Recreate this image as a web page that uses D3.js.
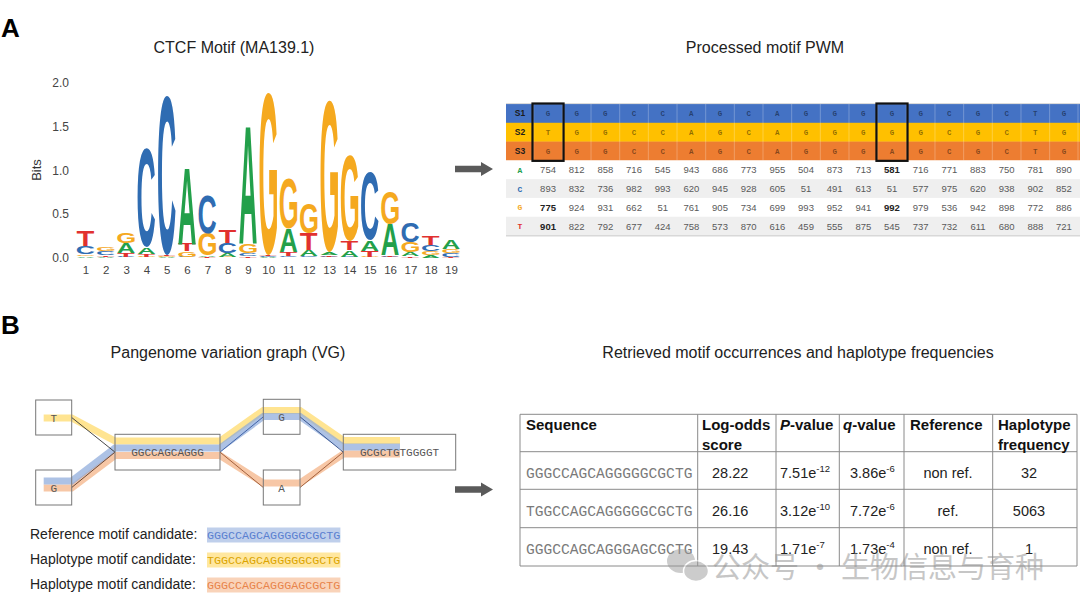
<!DOCTYPE html>
<html><head><meta charset="utf-8">
<script src="https://cdn.jsdelivr.net/npm/d3@7"></script>
<style>body{margin:0;background:#fff}svg{display:block}</style>
</head><body>
<svg id="c" width="1080" height="608"></svg>
<script>
// ---------------- DATA ----------------
const positions = d3.range(1, 20);
const logoBases = ["A", "C", "G", "T"];
// information content (bits) of each letter per position
const logoA = [0.02,0.01,0.11,0.08,0.01,0.88,0.02,0.04,1.36,0.01,0.27,0.07,0.03,0.08,0.12,0.35,0.04,0.03,0.10];
const logoC = [0.09,0.04,0.01,1.13,1.83,0.01,0.44,0.12,0.03,0.01,0.02,0.02,0.01,0.01,0.79,0.01,0.23,0.07,0.04];
const logoG = [0.02,0.04,0.12,0.01,0.01,0.06,0.25,0.01,0.11,1.86,0.58,0.35,1.73,0.98,0.01,0.38,0.12,0.04,0.05];
const logoT = [0.17,0.02,0.04,0.03,0.01,0.09,0.01,0.14,0.02,0.01,0.04,0.19,0.02,0.10,0.07,0.02,0.02,0.10,0.01];
const yTicks = [0, 0.5, 1.0, 1.5, 2.0];

const pwmSeqNames = ["S1", "S2", "S3"];
const seqS1 = ["G","G","G","C","C","A","G","C","A","G","G","G","G","G","C","G","C","T","G"];
const seqS2 = ["T","G","G","C","C","A","G","C","A","G","G","G","G","G","C","G","C","T","G"];
const seqS3 = ["G","G","G","C","C","A","G","C","A","G","G","G","A","G","C","G","C","T","G"];
const pwmA = [754,812,858,716,545,943,686,773,955,504,873,713,581,716,771,883,750,781,890];
const pwmC = [893,832,736,982,993,620,945,928,605,51,491,613,51,577,975,620,938,902,852];
const pwmG = [775,924,931,662,51,761,905,734,699,993,952,941,992,979,536,942,898,772,886];
const pwmT = [901,822,792,677,424,758,573,870,616,459,555,875,545,737,732,611,680,888,721];
const boldCells = [[0,"G"],[0,"T"],[12,"A"],[12,"G"]];
const boxedCols = [0, 12];

const vgLabels = ["T", "G", "GGCCAGCAGGG", "G", "A", "GCGCTGTGGGGT"];
const legendLabels = ["Reference motif candidate:", "Haplotype motif candidate:", "Haplotype motif candidate:"];
const legendSeqs = ["GGGCCAGCAGGGGGCGCTG", "TGGCCAGCAGGGGGCGCTG", "GGGCCAGCAGGGAGCGCTG"];

const tableSeqs = ["GGGCCAGCAGGGGGCGCTG", "TGGCCAGCAGGGGGCGCTG", "GGGCCAGCAGGGAGCGCTG"];
const logOdds = ["28.22", "26.16", "19.43"];
const pMant = ["7.51", "3.12", "1.71"];
const pExp = ["-12", "-10", "-7"];
const qMant = ["3.86", "7.72", "1.73"];
const qExp = ["-6", "-6", "-4"];
const refCol = ["non ref.", "ref.", "non ref."];
const hapFreq = ["32", "5063", "1"];

// ---------------- STYLE / LAYOUT ----------------
const SANS = "'Liberation Sans', Arial, Helvetica, sans-serif";
const MONO = "'Liberation Mono', 'Courier New', monospace";
const logoColors = {A: "#23a04a", C: "#2f6cb2", G: "#f5a91f", T: "#e1312f"};
const svg = d3.select("#c");

// panel letters
svg.append("text").attr("x", 1).attr("y", 37).text("A")
  .attr("font-family", SANS).attr("font-weight", "bold").attr("font-size", 26);
svg.append("text").attr("x", 1).attr("y", 334).text("B")
  .attr("font-family", SANS).attr("font-weight", "bold").attr("font-size", 26);

function title(x, y, t) {
  svg.append("text").attr("x", x).attr("y", y).attr("text-anchor", "middle")
    .attr("font-family", SANS).attr("font-size", 16).attr("fill", "#222").text(t);
}
title(234, 53, "CTCF Motif (MA139.1)");
title(765, 53, "Processed motif PWM");
title(228, 358, "Pangenome variation graph (VG)");
title(798, 358, "Retrieved motif occurrences and haplotype frequencies");

// ---------------- SEQUENCE LOGO ----------------
const xLogo = d3.scaleLinear().domain([1, 19]).range([85.5, 451]);
const yLogo = d3.scaleLinear().domain([0, 2]).range([257.5, 83]);
const letterW = 17.5;
const gLogo = svg.append("g");
const yAxis = d3.axisLeft(yLogo).tickValues(yTicks).tickFormat(d3.format(".1f")).tickSize(0).tickPadding(0);
const yAxG = gLogo.append("g").attr("transform", "translate(69,0)").call(yAxis);
yAxG.select(".domain").remove();
yAxG.selectAll("text").attr("font-family", SANS).attr("font-size", 12).attr("fill", "#444");
const xAxis = d3.axisBottom(xLogo).tickValues(positions).tickFormat(d3.format("d")).tickSize(0).tickPadding(0);
const xAxG = gLogo.append("g").attr("transform", "translate(0,266)").call(xAxis);
xAxG.select(".domain").remove();
xAxG.selectAll("text").attr("font-family", SANS).attr("font-size", 11.5).attr("fill", "#444");
gLogo.append("text").attr("transform", "translate(41,170) rotate(-90)").attr("text-anchor", "middle")
  .attr("font-family", SANS).attr("font-size", 13).attr("fill", "#333").text("Bits");

const canvas = document.createElement("canvas");
const ctx = canvas.getContext("2d");
ctx.font = "bold 100px " + SANS;
const metrics = {};
logoBases.forEach(b => {
  const m = ctx.measureText(b);
  metrics[b] = {l: m.actualBoundingBoxLeft, r: m.actualBoundingBoxRight, a: m.actualBoundingBoxAscent, d: m.actualBoundingBoxDescent};
});
const logoData = {A: logoA, C: logoC, G: logoG, T: logoT};
positions.forEach((p, i) => {
  const stack = logoBases.map(b => ({b, h: logoData[b][i]})).sort((u, v) => u.h - v.h);
  let cum = 0;
  stack.forEach(s => {
    const y0 = yLogo(cum), y1 = yLogo(cum + s.h);
    cum += s.h;
    const h = y0 - y1;
    if (h < 0.3) return;
    const m = metrics[s.b];
    const sx = letterW / (m.l + m.r), sy = h / (m.a + m.d);
    const x0 = xLogo(p) - letterW / 2;
    gLogo.append("text")
      .attr("transform", `translate(${x0 + m.l * sx},${y0 - m.d * sy}) scale(${sx},${sy})`)
      .attr("font-size", 100).attr("font-weight", "bold").attr("font-family", SANS)
      .attr("fill", logoColors[s.b]).text(s.b);
  });
});

// arrows
function arrow(x0, x1, y) {
  svg.append("path")
    .attr("d", `M${x0},${y - 3.2} L${x1 - 12},${y - 3.2} L${x1 - 12},${y - 7} L${x1},${y} L${x1 - 12},${y + 7} L${x1 - 12},${y + 3.2} L${x0},${y + 3.2} Z`)
    .attr("fill", "#5a5a5a");
}
arrow(455, 493, 169);
arrow(455, 493, 489.5);

// ---------------- PWM TABLE ----------------
const pwmRowsAll = pwmSeqNames.concat(logoBases);
const colX = d3.scaleBand().domain(d3.range(19)).range([533.7, 1078.3]);
const rowY = d3.scaleBand().domain(pwmRowsAll).range([104, 235.5]);
const rowFill = {S1: "#4472c4", S2: "#ffc000", S3: "#ed7d31", A: "#ffffff", C: "#efefef", G: "#ffffff", T: "#efefef"};
const gP = svg.append("g");
gP.selectAll("rect.row").data(pwmRowsAll).join("rect")
  .attr("x", 506).attr("y", d => rowY(d)).attr("width", 1080 - 506).attr("height", rowY.bandwidth() + 0.3)
  .attr("fill", d => rowFill[d]);
gP.append("line").attr("x1", 506).attr("x2", 1080).attr("y1", 235.8).attr("y2", 235.8).attr("stroke", "#d8d8d8").attr("stroke-width", 1.5);
gP.append("line").attr("x1", 506).attr("x2", 1080).attr("y1", 103.6).attr("y2", 103.6).attr("stroke", "#d8d8d8").attr("stroke-width", 1);
gP.selectAll("line.sep").data(d3.range(20)).join("line")
  .attr("x1", d => d < 19 ? colX(d) : 1078).attr("x2", d => d < 19 ? colX(d) : 1078)
  .attr("y1", rowY("S1")).attr("y2", rowY("S3") + rowY.bandwidth())
  .attr("stroke", "#ffffff").attr("stroke-opacity", 0.25);
gP.selectAll("text.slab").data(pwmSeqNames).join("text")
  .attr("x", 520).attr("y", d => rowY(d) + rowY.bandwidth() / 2 + 3).attr("text-anchor", "middle")
  .attr("font-family", SANS).attr("font-weight", "bold").attr("font-size", 8.5).attr("fill", "#1b1b1b").text(d => d);
gP.selectAll("text.blab").data(logoBases).join("text")
  .attr("x", 520).attr("y", d => rowY(d) + rowY.bandwidth() / 2 + 3).attr("text-anchor", "middle")
  .attr("font-family", MONO).attr("font-weight", "bold").attr("font-size", 8).attr("fill", d => logoColors[d]).text(d => d);
const seqs = {S1: seqS1, S2: seqS2, S3: seqS3};
pwmSeqNames.forEach(r => {
  gP.selectAll("text.s" + r).data(seqs[r]).join("text")
    .attr("x", (d, i) => colX(i) + colX.bandwidth() / 2).attr("y", rowY(r) + rowY.bandwidth() / 2 + 2.7)
    .attr("text-anchor", "middle").attr("font-family", MONO).attr("font-weight", "bold").attr("font-size", 7.5)
    .attr("fill", "#000").attr("fill-opacity", 0.45).text(d => d);
});
const pwmVals = {A: pwmA, C: pwmC, G: pwmG, T: pwmT};
logoBases.forEach(b => {
  gP.selectAll("text.v" + b).data(pwmVals[b]).join("text")
    .attr("x", (d, i) => colX(i) + colX.bandwidth() / 2).attr("y", rowY(b) + rowY.bandwidth() / 2 + 3.4)
    .attr("text-anchor", "middle").attr("font-family", SANS).attr("font-size", 9.5)
    .attr("font-weight", (d, i) => boldCells.some(c => c[0] === i && c[1] === b) ? "bold" : "normal")
    .attr("fill", (d, i) => boldCells.some(c => c[0] === i && c[1] === b) ? "#222" : "#5a5a5a")
    .text(d => d);
});
gP.selectAll("rect.box").data(boxedCols).join("rect")
  .attr("x", d => colX(d) - 1.2).attr("y", rowY("S1") - 0.5)
  .attr("width", colX.bandwidth() + 2.4).attr("height", rowY.bandwidth() * 3 + 1)
  .attr("fill", "none").attr("stroke", "#111").attr("stroke-width", 2.2);

// ---------------- VARIATION GRAPH ----------------
const gV = svg.append("g");
const nodes = [
  {x: 35.7, y: 400, w: 36, h: 35},
  {x: 35.7, y: 470, w: 36, h: 35},
  {x: 115, y: 434.3, w: 105, h: 35.7},
  {x: 263.3, y: 399.3, w: 36.7, h: 35},
  {x: 263.3, y: 470, w: 36.7, h: 35},
  {x: 343.3, y: 434.3, w: 112.4, h: 35.7}
];
nodes.forEach((n, i) => n.label = vgLabels[i]);
const edges = [[0, 2, "#333"], [1, 2, "#5b3a2a"], [2, 3, "#3459a0"], [2, 4, "#9a5530"], [3, 5, "#2d4a86"], [4, 5, "#9a5530"]];
const bands = [
  {color: "#ffd966", lanes: [[0, 418], [2, 441], [3, 410.5], [5, 440.5]]},
  {color: "#f4b183", lanes: [[1, 488], [2, 455.5], [4, 483], [5, 454]]},
  {color: "#8eaadb", lanes: [[1, 481], [2, 448], [3, 416.5], [5, 447]]}
];
const line = d3.line();
bands.forEach(bd => {
  const pts = [];
  bd.lanes.forEach(([ni, ly], k) => {
    const n = nodes[ni];
    if (k === 0) { pts.push([n.x + 8, ly], [n.x + n.w, ly]); }
    else if (k === bd.lanes.length - 1) { pts.push([n.x, ly], [400, ly]); }
    else { pts.push([n.x, ly], [n.x + n.w, ly]); }
  });
  gV.append("path").attr("d", line(pts)).attr("fill", "none").attr("stroke", bd.color)
    .attr("stroke-width", 7).attr("stroke-opacity", 0.72).attr("stroke-linejoin", "miter");
});
edges.forEach(([a, b, c]) => {
  const s = nodes[a], t = nodes[b];
  gV.append("line").attr("x1", s.x + s.w).attr("y1", s.y + s.h / 2).attr("x2", t.x).attr("y2", t.y + t.h / 2)
    .attr("stroke", c).attr("stroke-width", 0.9);
});
gV.selectAll("rect.node").data(nodes).join("rect")
  .attr("x", d => d.x).attr("y", d => d.y).attr("width", d => d.w).attr("height", d => d.h)
  .attr("fill", "none").attr("stroke", "#777").attr("stroke-width", 1);
gV.selectAll("text.node").data(nodes).join("text")
  .attr("x", d => d.x + d.w / 2).attr("y", d => d.y + d.h / 2 + 4).attr("text-anchor", "middle")
  .attr("font-family", MONO).attr("font-size", 11).attr("fill", "#555").text(d => d.label);

// legend
const legBg = ["#b4c7e7", "#ffe38f", "#f8cbad"];
const legFg = ["#5a7fd0", "#dba400", "#e8834a"];
legendLabels.forEach((l, i) => {
  const y = 539 + i * 25;
  svg.append("text").attr("x", 30).attr("y", y).attr("font-family", SANS).attr("font-size", 14)
    .attr("fill", "#222").text(l);
  const fs = 11.7;
  const w = legendSeqs[i].length * fs * 0.6;
  svg.append("rect").attr("x", 207).attr("y", y - 11.5).attr("width", w).attr("height", 15)
    .attr("fill", legBg[i]).attr("fill-opacity", 0.85);
  svg.append("text").attr("x", 207).attr("y", y - 0.5).attr("font-family", MONO).attr("font-size", fs)
    .attr("fill", legFg[i]).text(legendSeqs[i]);
});

// ---------------- RESULTS TABLE ----------------
const gT = svg.append("g");
const colB = [520, 697.7, 776, 839.3, 904, 992.7, 1077];
const rowB = [414.3, 451.7, 489.3, 527.7, 566];
colB.forEach(x => gT.append("line").attr("x1", x).attr("x2", x).attr("y1", rowB[0]).attr("y2", rowB[4]).attr("stroke", "#8a8a8a").attr("stroke-width", 1));
rowB.forEach(y => gT.append("line").attr("x1", colB[0]).attr("x2", colB[6]).attr("y1", y).attr("y2", y).attr("stroke", "#8a8a8a").attr("stroke-width", 1));
function hdr(x, y, parts) {
  const t = gT.append("text").attr("x", x).attr("y", y).attr("font-family", SANS).attr("font-weight", "bold")
    .attr("font-size", 15).attr("fill", "#111");
  parts.forEach(([s, it]) => t.append("tspan").attr("font-style", it ? "italic" : "normal").text(s));
}
hdr(526, 430, [["Sequence", 0]]);
hdr(702, 430, [["Log-odds", 0]]);
hdr(702, 449.5, [["score", 0]]);
hdr(780, 430, [["P", 1], ["-value", 0]]);
hdr(843, 430, [["q", 1], ["-value", 0]]);
hdr(910, 430, [["Reference", 0]]);
hdr(998, 430, [["Haplotype", 0]]);
hdr(998, 449.5, [["frequency", 0]]);
const rowBase = i => (rowB[i + 1] + rowB[i + 2]) / 2 + 7;
tableSeqs.forEach((s, i) => {
  gT.append("text").attr("x", 526).attr("y", rowBase(i)).attr("font-family", MONO).attr("font-size", 14.6)
    .attr("fill", "#7a7a7a").text(s);
  gT.append("text").attr("x", 712).attr("y", rowBase(i)).attr("font-family", SANS).attr("font-size", 14.5)
    .attr("fill", "#222").text(logOdds[i]);
  const pt = gT.append("text").attr("x", 780).attr("y", rowBase(i)).attr("font-family", SANS).attr("font-size", 14.5).attr("fill", "#222");
  pt.append("tspan").text(pMant[i] + "e");
  pt.append("tspan").attr("dy", -6).attr("font-size", 9.5).text(pExp[i]);
  const qt = gT.append("text").attr("x", 850).attr("y", rowBase(i)).attr("font-family", SANS).attr("font-size", 14.5).attr("fill", "#222");
  qt.append("tspan").text(qMant[i] + "e");
  qt.append("tspan").attr("dy", -6).attr("font-size", 9.5).text(qExp[i]);
  gT.append("text").attr("x", 948).attr("y", rowBase(i)).attr("text-anchor", "middle").attr("font-family", SANS)
    .attr("font-size", 14.5).attr("fill", "#222").text(refCol[i]);
  gT.append("text").attr("x", 1029).attr("y", rowBase(i)).attr("text-anchor", "middle").attr("font-family", SANS)
    .attr("font-size", 14.5).attr("fill", "#222").text(hapFreq[i]);
});

// watermark
const gW = svg.append("g").attr("opacity", 0.5);
gW.append("ellipse").attr("cx", 681).attr("cy", 561).attr("rx", 14).attr("ry", 12).attr("fill", "#9a9a9a");
gW.append("ellipse").attr("cx", 696).attr("cy", 571).attr("rx", 12.5).attr("ry", 10.5).attr("fill", "#9a9a9a").attr("stroke", "#fff").attr("stroke-width", 1.5);
gW.append("text").attr("x", 712).attr("y", 578).attr("font-family", "'Noto Sans CJK SC', sans-serif")
  .attr("font-size", 29).attr("fill", "#8f8f8f").text("公众号 · 生物信息与育种");
</script>
</body></html>
